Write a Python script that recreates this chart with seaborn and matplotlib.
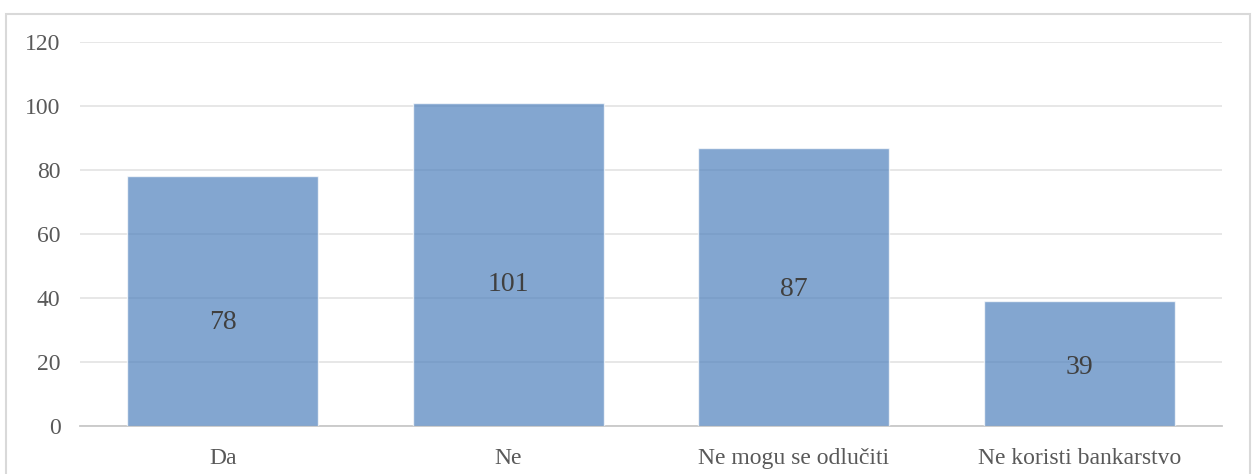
import matplotlib
matplotlib.use("Agg")
import matplotlib.pyplot as plt
import seaborn as sns
import pandas as pd
from matplotlib.patches import Rectangle

categories = ["Da", "Ne", "Ne mogu se odlučiti", "Ne koristi bankarstvo"]
counts = [78, 101, 87, 39]
y_ticks = [0, 20, 40, 60, 80, 100, 120]

# vertical placement of the value labels inside each bar
label_y = [32.3, 44.3, 42.5, 18.2]

df = pd.DataFrame({"odgovor": categories, "broj": counts})

sns.set_theme(style="white")
plt.rcParams["font.family"] = ["Liberation Serif", "DejaVu Serif"]

fig = plt.figure(figsize=(12.54, 4.74), dpi=100)
ax = fig.add_axes([0.0638, 0.1013, 0.9107, 0.8101])

sns.barplot(data=df, x="odgovor", y="broj", color="#4f81bd", alpha=0.7,
            width=0.67, saturation=1, ax=ax, zorder=3)

ax.set_ylim(0, 120)
ax.set_yticks(y_ticks)
ax.set_xlim(-0.5, len(categories) - 0.5)
ax.yaxis.grid(True, color="#e3e3e3", linewidth=1.2, zorder=0)
ax.set_axisbelow(True)
ax.set_xlabel("")
ax.set_ylabel("")

for s in ["left", "right", "top"]:
    ax.spines[s].set_visible(False)
ax.spines["bottom"].set_color("#c8c8c8")
ax.spines["bottom"].set_linewidth(1.3)

ax.tick_params(axis="y", length=0, labelsize=17, labelcolor="#595959", pad=14)
ax.tick_params(axis="x", length=0, labelsize=17, labelcolor="#595959", pad=16)

for i, (v, ly) in enumerate(zip(counts, label_y)):
    ax.text(i, ly, str(v), ha="center", va="center", fontsize=20,
            color="#404040", zorder=5)

# light frame around the chart area
fig.patches.append(Rectangle((6 / 1254, -0.05), 1244 / 1254, 1.05 - 14 / 474,
                             transform=fig.transFigure, fill=False,
                             edgecolor="#d9d9d9", linewidth=1.5))

fig.savefig("out.png", dpi=100)
